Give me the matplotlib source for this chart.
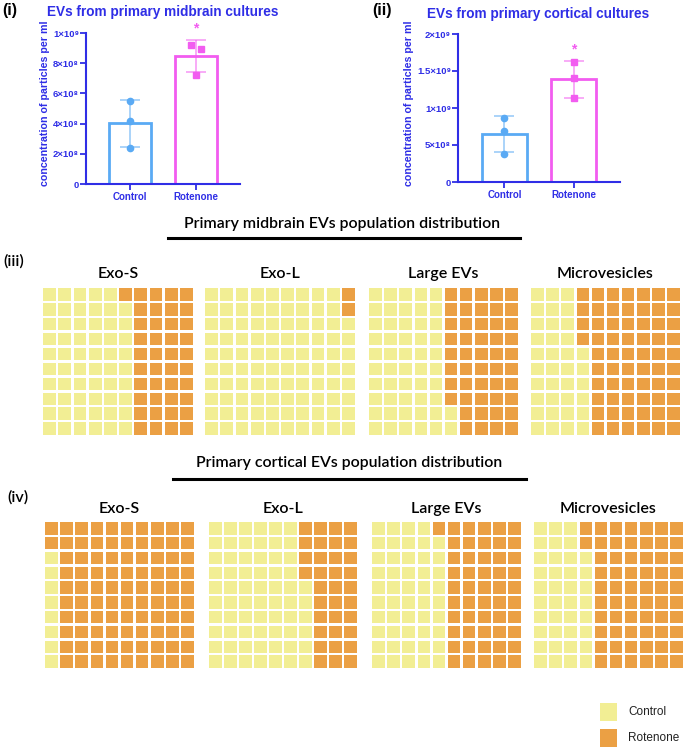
import matplotlib
matplotlib.use('Agg')
import matplotlib.pyplot as plt
from matplotlib.patches import Rectangle
import numpy as np

# ---- data ----
groups = ['Control', 'Rotenone']
midbrain_control = [5.5e8, 4.15e8, 2.4e8]
midbrain_rotenone = [9.2e8, 8.95e8, 7.25e8]
cortical_control = [0.87e9, 0.69e9, 0.38e9]
cortical_rotenone = [1.62e9, 1.41e9, 1.13e9]

midbrain_ticks = [0, 2e8, 4e8, 6e8, 8e8, 1e9]
midbrain_ticklabels = ['0', '2×10⁸', '4×10⁸', '6×10⁸', '8×10⁸', '1×10⁹']
cortical_ticks = [0, 5e8, 1e9, 1.5e9, 2e9]
cortical_ticklabels = ['0', '5×10⁸', '1×10⁹', '1.5×10⁹', '2×10⁹']

waffle_titles = ['Exo-S', 'Exo-L', 'Large EVs', 'Microvesicles']
midbrain_rotenone_pct = [41, 2, 48, 64]
cortical_rotenone_pct = [92, 34, 51, 62]
midbrain_control_pct = [100 - v for v in midbrain_rotenone_pct]
cortical_control_pct = [100 - v for v in cortical_rotenone_pct]

# ---- style ----
W, H = 685, 749
BLUE = '#2f2ee6'
C_CTRL = '#5aaaf4'
C_ROT = '#f25cf0'
YELLOW = '#f2ee94'
ORANGE = '#eba044'
ARIAL = ['Liberation Sans', 'DejaVu Sans']
CAL = 'Lato'

fig = plt.figure(figsize=(W / 100, H / 100), dpi=100)


def rect(x0, y0, x1, y1):
    # pixel box (top-left origin) -> figure fraction
    return [x0 / W, 1 - y1 / H, (x1 - x0) / W, (y1 - y0) / H]


def ftext(x, y, s, **kw):
    fig.text(x / W, 1 - y / H, s, **kw)


def bar_panel(box, ctrl, rot, ticks, ticklabels, ymax, title, label, title_xy, label_xy,
              jitter, ylabel_pos):
    ax = fig.add_axes(rect(*box))
    data = [ctrl, rot]
    cols = [C_CTRL, C_ROT]
    markers = ['o', 's']
    for i, vals in enumerate(data):
        m = np.mean(vals)
        sd = np.std(vals, ddof=1)
        ax.bar(i, m, width=0.65, facecolor='white', edgecolor=cols[i], linewidth=2, zorder=2)
        ax.errorbar(i, m, yerr=sd, color=cols[i], alpha=0.6, capsize=7, capthick=1.2,
                    elinewidth=1.2, zorder=3)
        ax.plot(np.full(len(vals), i) + np.array(jitter[i]), vals, linestyle='none',
                marker=markers[i], color=cols[i], markersize=4.5, zorder=4)
        if i == 1:
            ax.text(i, m + sd + ymax * 0.03, '*', ha='center', va='bottom', color=cols[i],
                    fontsize=10, fontweight='bold', family=ARIAL)
    ax.set_xlim(-0.67, 1.67)
    ax.set_ylim(0, ymax)
    ax.set_yticks(ticks)
    ax.set_yticklabels(ticklabels, family=ARIAL, fontsize=6.8, fontweight='bold', color=BLUE)
    ax.set_xticks([0, 1])
    ax.set_xticklabels(groups, family=ARIAL, fontsize=7, fontweight='bold', color=BLUE)
    ax.tick_params(colors=BLUE, width=1.3, length=4, pad=2)
    ax.tick_params(axis='y', pad=1)
    for s in ['top', 'right']:
        ax.spines[s].set_visible(False)
    for s in ['left', 'bottom']:
        ax.spines[s].set_color(BLUE)
        ax.spines[s].set_linewidth(1.5)
    ax.set_ylabel('concentration of particles per ml', family=ARIAL, fontsize=7.7,
                  fontweight='bold', color=BLUE)
    ax.yaxis.set_label_coords(*ylabel_pos)
    ftext(*title_xy, title, ha='center', va='center', family=ARIAL, fontsize=9.8,
          fontweight='bold', color=BLUE)
    ftext(*label_xy, label, ha='left', va='center', family=ARIAL, fontsize=11.5,
          fontweight='bold', color='black')


bar_panel((86, 33, 240, 184), midbrain_control, midbrain_rotenone, midbrain_ticks,
          midbrain_ticklabels, 1e9, 'EVs from primary midbrain cultures', '(i)',
          (163, 12), (2, 10), [[0, 0, 0], [-0.08, 0.08, 0]], (-0.232, 0.535))
bar_panel((458, 34, 620, 182), cortical_control, cortical_rotenone, cortical_ticks,
          cortical_ticklabels, 2e9, 'EVs from primary cortical cultures', '(ii)',
          (538, 14), (372, 10), [[0, 0, 0], [0, 0, 0]], (-0.27, 0.53))


def waffle(box, rot_n, title, title_y):
    ax = fig.add_axes(rect(*box))
    g = 0.17
    for c in range(10):
        for r in range(10):
            k = (9 - c) * 10 + r
            col = ORANGE if k < rot_n else YELLOW
            ax.add_patch(Rectangle((c + g / 2, r + g / 2), 1 - g, 1 - g, facecolor=col,
                                   edgecolor='none'))
    ax.set_xlim(0, 10)
    ax.set_ylim(10, 0)
    ax.axis('off')
    ftext((box[0] + box[2]) / 2, title_y, title, ha='center', va='center', family=CAL,
          fontsize=11.5, fontweight='semibold', color='black')


mid_boxes = [(42, 287, 194, 436), (204, 287, 356, 436), (368, 287, 519, 436), (530, 287, 681, 436)]
cor_boxes = [(44, 521, 195, 669), (208, 521, 358, 669), (371, 521, 522, 669), (533, 521, 684, 669)]
for i, t in enumerate(waffle_titles):
    waffle(mid_boxes[i], midbrain_rotenone_pct[i], t, 274)
    waffle(cor_boxes[i], cortical_rotenone_pct[i], t, 509)

# section headers
ftext(342, 224, 'Primary midbrain EVs population distribution', ha='center', va='center',
      family=CAL, fontsize=11.4, fontweight='semibold', color='black')
fig.add_artist(plt.Line2D([168 / W, 520 / W], [1 - 238 / H] * 2, color='black', lw=2.2))
ftext(349, 463, 'Primary cortical EVs population distribution', ha='center', va='center',
      family=CAL, fontsize=11.4, fontweight='semibold', color='black')
fig.add_artist(plt.Line2D([173 / W, 526 / W], [1 - 479 / H] * 2, color='black', lw=2.2))
ftext(3, 261, '(iii)', ha='left', va='center', family=CAL, fontsize=11.5,
      fontweight='semibold', color='black')
ftext(7, 497, '(iv)', ha='left', va='center', family=CAL, fontsize=11.5,
      fontweight='semibold', color='black')

# legend
for lab, col, y in [('Control', YELLOW, 703), ('Rotenone', ORANGE, 729)]:
    fig.add_artist(Rectangle((600 / W, 1 - (y + 18) / H), 17 / W, 18 / H, facecolor=col,
                             edgecolor='none', transform=fig.transFigure))
    ftext(628, y + 9, lab, ha='left', va='center', family=ARIAL, fontsize=8.5, color='#222222')

fig.savefig('out.png', dpi=100)
